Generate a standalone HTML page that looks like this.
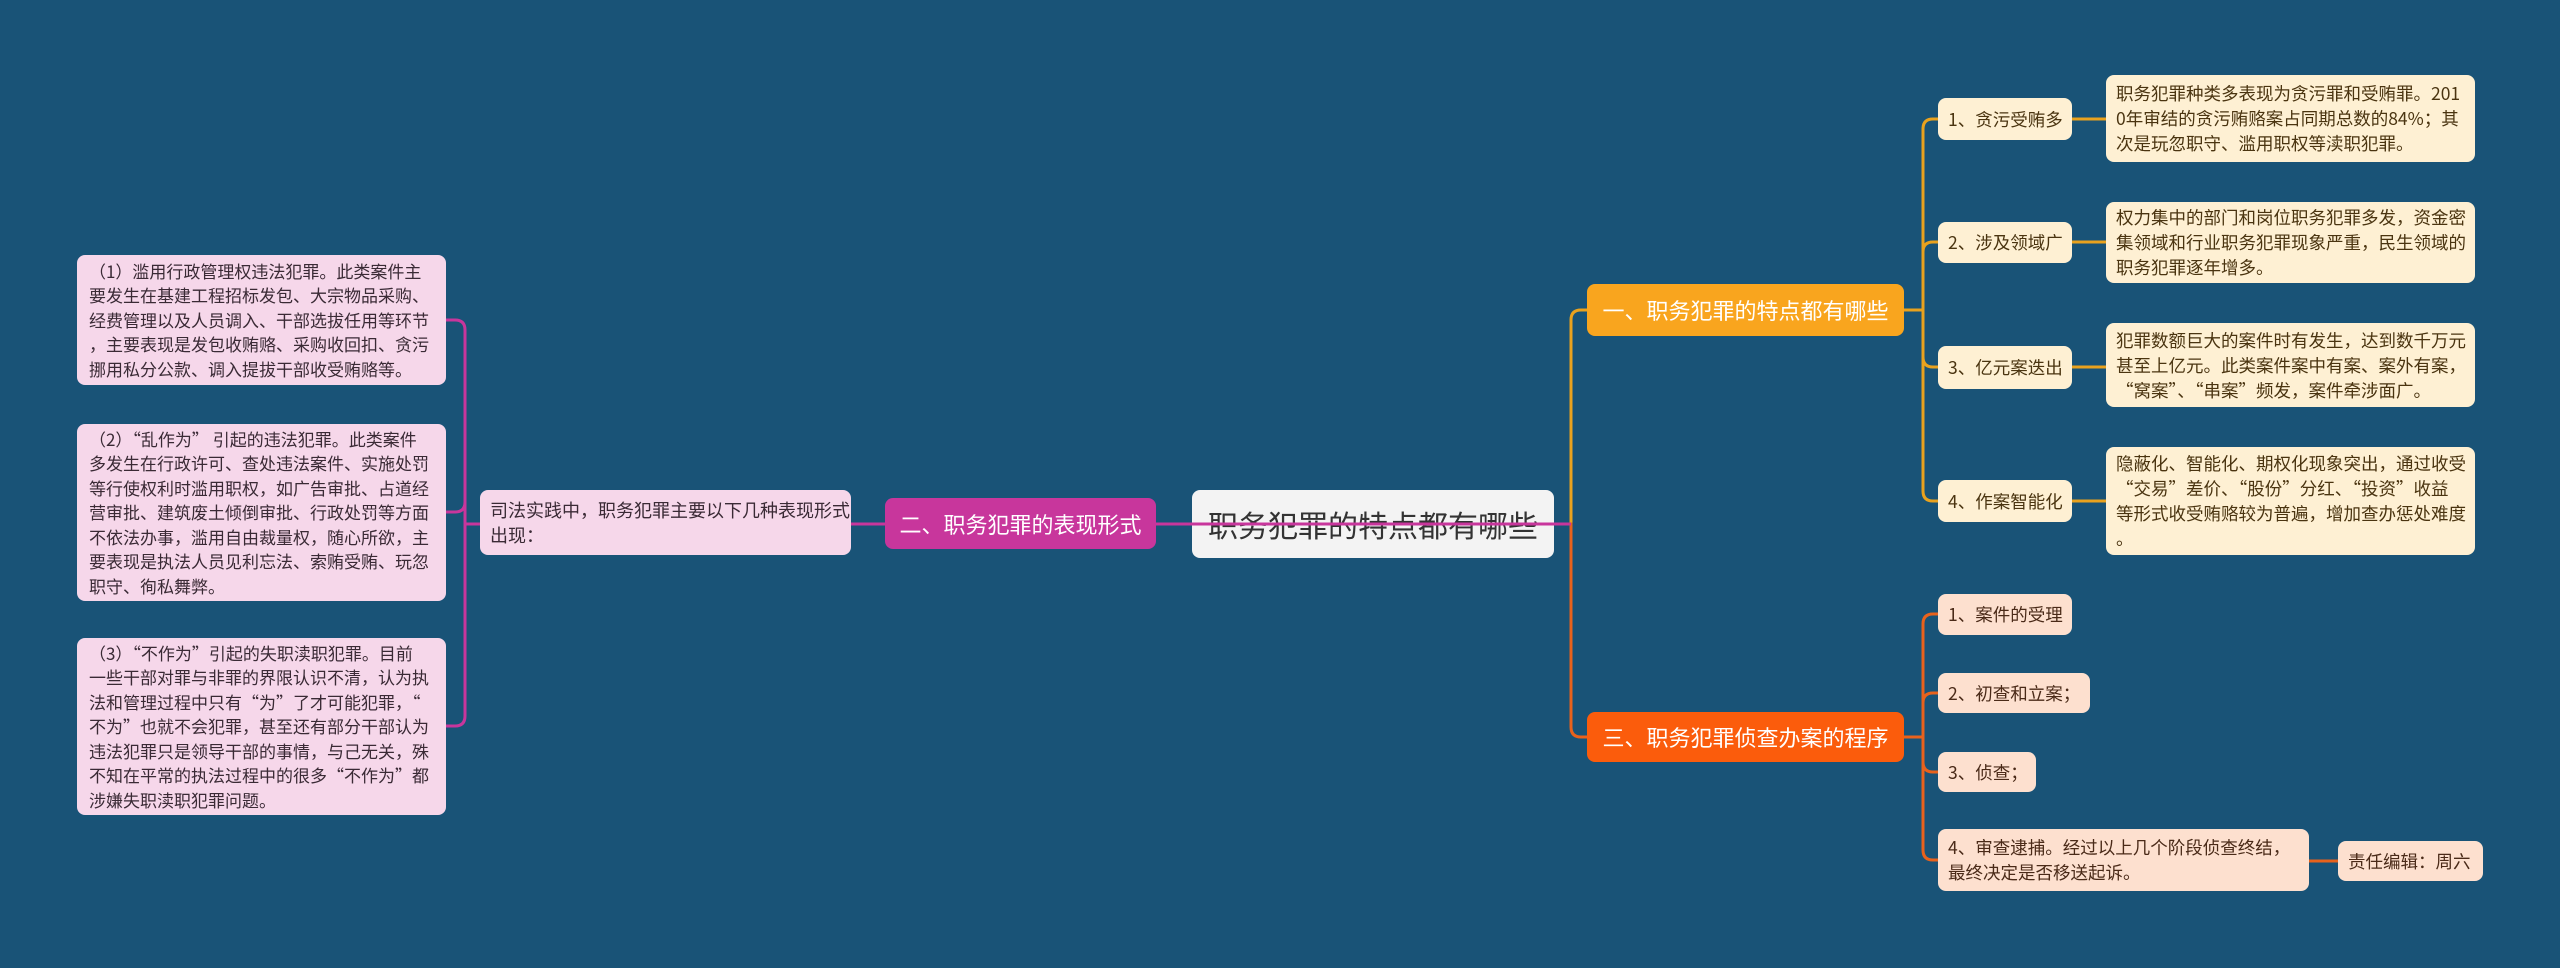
<!DOCTYPE html>
<html><head><meta charset="utf-8"><style>
body{margin:0;width:2560px;height:968px;background:#195377;overflow:hidden;position:relative;font-family:"Liberation Sans","Noto Sans CJK SC",sans-serif;}
.n{position:absolute;box-sizing:border-box;border-radius:8px;display:flex;flex-direction:column;justify-content:center;white-space:nowrap;}
.l,.c,.o{font-family:"Noto Sans CJK SC","Liberation Sans",sans-serif;}
.l{background:#f6d7ea;color:#3a2a35;font-size:17px;line-height:24.5px;padding:0 12px;}
.c{background:#fef0d3;color:#4a3410;font-size:17.5px;line-height:25px;padding:0 10px;}
.o{background:#fde0cf;color:#4a2a18;font-size:17.5px;line-height:25px;padding:0 10px;}
svg{position:absolute;left:0;top:0;}
</style></head><body>
<svg width="2560" height="968" fill="none" stroke-width="3">
<path d="M1554 524 H1571 V320 Q1571 310 1581 310 H1587" stroke="#e9a21e"/>
<path d="M1554 524 H1571 V727 Q1571 737 1581 737 H1587" stroke="#e8621c"/>
<g stroke="#e9a21e">
<path d="M1904 310 H1923"/>
<path d="M1923 310 V129 Q1923 119 1933 119 H1938"/>
<path d="M1923 310 V252 Q1923 242 1933 242 H1938"/>
<path d="M1923 310 V357 Q1923 367 1933 367 H1938"/>
<path d="M1923 310 V491 Q1923 501 1933 501 H1938"/>
<path d="M2072 119 H2106 M2072 242 H2106 M2072 367 H2106 M2072 501 H2106"/>
</g>
<g stroke="#e8621c">
<path d="M1904 737 H1923"/>
<path d="M1923 737 V624 Q1923 614 1933 614 H1938"/>
<path d="M1923 737 V703 Q1923 693 1933 693 H1938"/>
<path d="M1923 737 V762 Q1923 772 1933 772 H1938"/>
<path d="M1923 737 V850 Q1923 860 1933 860 H1938"/>
<path d="M2309 861 H2338"/>
</g>
<g stroke="#c8369c">
<path d="M851 524 H885"/>
<path d="M480 524 H465"/>
<path d="M465 524 V330 Q465 320 455 320 H446"/>
<path d="M465 524 V502 Q465 512 455 512 H446"/>
<path d="M465 524 V716 Q465 726 455 726 H446"/>
</g>
</svg>

<div class="n l" style="left:77px;top:255px;width:369px;height:130px"><div>（1）滥用行政管理权违法犯罪。此类案件主</div><div>要发生在基建工程招标发包、大宗物品采购、</div><div>经费管理以及人员调入、干部选拔任用等环节</div><div>，主要表现是发包收贿赂、采购收回扣、贪污</div><div>挪用私分公款、调入提拔干部收受贿赂等。</div></div>
<div class="n l" style="left:77px;top:424px;width:369px;height:177px"><div>（2）“乱作为” 引起的违法犯罪。此类案件</div><div>多发生在行政许可、查处违法案件、实施处罚</div><div>等行使权利时滥用职权，如广告审批、占道经</div><div>营审批、建筑废土倾倒审批、行政处罚等方面</div><div>不依法办事，滥用自由裁量权，随心所欲，主</div><div>要表现是执法人员见利忘法、索贿受贿、玩忽</div><div>职守、徇私舞弊。</div></div>
<div class="n l" style="left:77px;top:638px;width:369px;height:177px"><div>（3）“不作为”引起的失职渎职犯罪。目前</div><div>一些干部对罪与非罪的界限认识不清，认为执</div><div>法和管理过程中只有“为”了才可能犯罪，“</div><div>不为”也就不会犯罪，甚至还有部分干部认为</div><div>违法犯罪只是领导干部的事情，与己无关，殊</div><div>不知在平常的执法过程中的很多“不作为”都</div><div>涉嫌失职渎职犯罪问题。</div></div>
<div class="n l" style="left:480px;top:490px;width:371px;height:65px;font-size:18px;padding:0 10px"><div>司法实践中，职务犯罪主要以下几种表现形式</div><div>出现：</div></div>

<div class="n" style="left:885px;top:498px;width:271px;height:51px;background:#c8369c;color:#fff;font-size:22px;align-items:center">二、职务犯罪的表现形式</div>
<div class="n" style="left:1192px;top:490px;width:362px;height:68px;background:#f3f3f3;color:#333;font-size:30px;align-items:center">职务犯罪的特点都有哪些</div>
<svg width="2560" height="968" fill="none" stroke-width="3" style="pointer-events:none"><path d="M1156 524 H1571" stroke="#c8369c"/></svg>

<div class="n" style="left:1587px;top:284px;width:317px;height:52px;background:#f9a51e;color:#fff;font-size:22px;align-items:center">一、职务犯罪的特点都有哪些</div>
<div class="n" style="left:1587px;top:712px;width:317px;height:50px;background:#fb5c0c;color:#fff;font-size:22px;align-items:center">三、职务犯罪侦查办案的程序</div>

<div class="n c" style="left:1938px;top:98px;width:134px;height:42px">1、贪污受贿多</div>
<div class="n c" style="left:1938px;top:222px;width:134px;height:41px">2、涉及领域广</div>
<div class="n c" style="left:1938px;top:346px;width:134px;height:43px">3、亿元案迭出</div>
<div class="n c" style="left:1938px;top:480px;width:134px;height:42px">4、作案智能化</div>
<div class="n c" style="left:2106px;top:75px;width:369px;height:87px"><div>职务犯罪种类多表现为贪污罪和受贿罪。201</div><div>0年审结的贪污贿赂案占同期总数的84%；其</div><div>次是玩忽职守、滥用职权等渎职犯罪。</div></div>
<div class="n c" style="left:2106px;top:202px;width:369px;height:81px"><div>权力集中的部门和岗位职务犯罪多发，资金密</div><div>集领域和行业职务犯罪现象严重，民生领域的</div><div>职务犯罪逐年增多。</div></div>
<div class="n c" style="left:2106px;top:323px;width:369px;height:84px"><div>犯罪数额巨大的案件时有发生，达到数千万元</div><div>甚至上亿元。此类案件案中有案、案外有案，</div><div>“窝案”、“串案”频发，案件牵涉面广。</div></div>
<div class="n c" style="left:2106px;top:447px;width:369px;height:108px"><div>隐蔽化、智能化、期权化现象突出，通过收受</div><div>“交易”差价、“股份”分红、“投资”收益</div><div>等形式收受贿赂较为普遍，增加查办惩处难度</div><div>。</div></div>

<div class="n o" style="left:1938px;top:594px;width:134px;height:41px">1、案件的受理</div>
<div class="n o" style="left:1938px;top:673px;width:152px;height:40px">2、初查和立案；</div>
<div class="n o" style="left:1938px;top:752px;width:98px;height:40px">3、侦查；</div>
<div class="n o" style="left:1938px;top:829px;width:371px;height:62px"><div>4、审查逮捕。经过以上几个阶段侦查终结，</div><div>最终决定是否移送起诉。</div></div>
<div class="n o" style="left:2338px;top:841px;width:145px;height:40px">责任编辑：周六</div>
</body></html>
